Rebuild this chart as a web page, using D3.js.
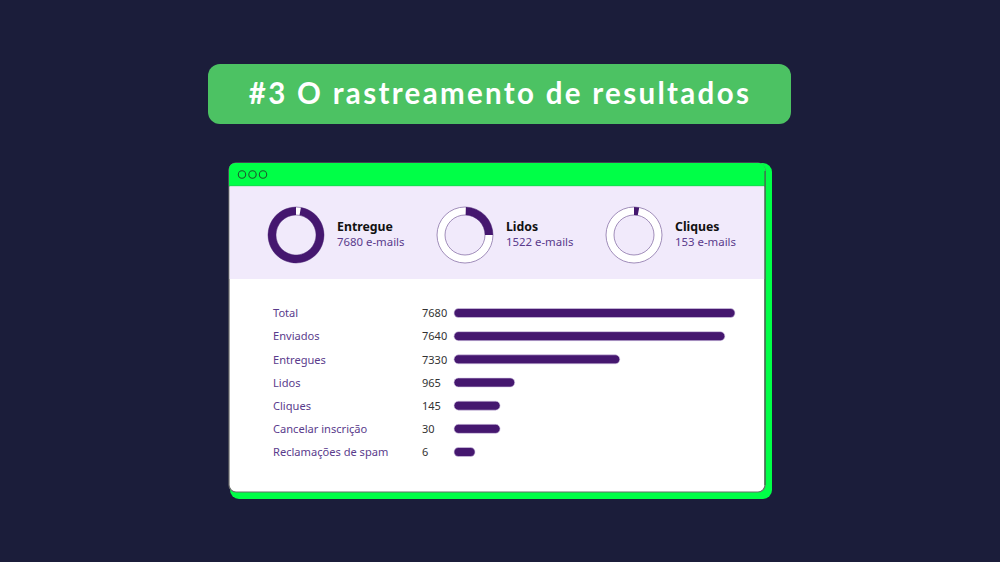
<!DOCTYPE html>
<html><head><meta charset="utf-8">
<script src="https://cdn.jsdelivr.net/npm/d3@7"></script>
<style>
html,body{margin:0;padding:0;background:#1b1d3a;}
svg{display:block;}
</style></head>
<body><svg id="chart" width="1000" height="562"></svg>
<script>
// ---- data ----
const titleText = "#3 O rastreamento de resultados";
const donutNames = ["Entregue", "Lidos", "Cliques"];
const donutCounts = [7680, 1522, 153];
const donutArcStart = [0.028, 0.005, 0.0];   // share of circle where filled arc starts
const donutArcEnd = [1.0, 0.25, 0.03];       // share of circle where filled arc ends
const barCategories = ["Total", "Enviados", "Entregues", "Lidos", "Cliques", "Cancelar inscrição", "Reclamações de spam"];
const barValues = [7680, 7640, 7330, 965, 145, 30, 6];
const barFillPct = [100, 96.4, 59, 21.6, 16.4, 16.4, 7.5]; // drawn bar length, % of longest

const svg = d3.select("#chart");
const C = {
  bg: "#1b1d3a", title: "#4cc263", neon: "#00ff47", lav: "#f1eafb",
  purple: "#45176f", labelPurple: "#5a3b8c", text: "#111", value: "#333"
};

svg.append("rect").attr("width",1000).attr("height",562).attr("fill",C.bg);

// title pill
svg.append("rect").attr("x",208).attr("y",64).attr("width",583).attr("height",60)
  .attr("rx",12).attr("fill",C.title);
const tt = svg.append("text").attr("x",500).attr("y",104).attr("text-anchor","middle")
  .attr("fill","#fff").attr("font-family","Lato, 'Open Sans', sans-serif")
  .attr("font-weight",700).attr("font-size",28).text(titleText);
let tw = tt.node().getComputedTextLength();
let fs = Math.min(29.5, 28*500/tw);
tt.attr("font-size",fs);
tw = tt.node().getComputedTextLength();
if (tw < 496) tt.attr("letter-spacing", ((500-tw)/(titleText.length-1)).toFixed(2));

// window: green offset shadow
svg.append("rect").attr("x",230).attr("y",163).attr("width",542).attr("height",336)
  .attr("rx",9).attr("fill",C.neon);
// panel
const px = 229, py = 163, pw = 536, ph = 329;
svg.append("rect").attr("x",px).attr("y",py).attr("width",pw).attr("height",ph)
  .attr("rx",7).attr("fill","#fff").attr("stroke","#6b6b6b").attr("stroke-width",1.2);
svg.append("path").attr("d",
  `M${px},${py+23} L${px},${py+7} Q${px},${py} ${px+7},${py} L${px+pw-7},${py} Q${px+pw},${py} ${px+pw},${py+7} L${px+pw},${py+23} Z`)
  .attr("fill",C.neon);
svg.append("line").attr("x1",px).attr("x2",px+pw).attr("y1",py+23).attr("y2",py+23)
  .attr("stroke","#2fb35a").attr("stroke-width",0.8);
svg.append("rect").attr("x",px+0.6).attr("y",py+23.5).attr("width",pw-1.2).attr("height",92.5)
  .attr("fill",C.lav);
svg.append("line").attr("x1",px+pw).attr("x2",px+pw).attr("y1",py+8).attr("y2",py+ph-7)
  .attr("stroke","#3c6b48").attr("stroke-width",1.2);
// window dots
[0,1,2].forEach(i => {
  svg.append("circle").attr("cx",242+i*10.5).attr("cy",174.5).attr("r",3.7)
    .attr("fill","none").attr("stroke","#1d5a2e").attr("stroke-width",1.1);
});

// ---- donuts ----
const dx = d3.scalePoint().domain(donutNames).range([296, 634]);
const dy = 235, rO = 28, rI = 20;
const ringArc = d3.arc().innerRadius(rI).outerRadius(rO);
const tau = 2*Math.PI;
const dg = svg.append("g").selectAll("g").data(donutNames).join("g")
  .attr("transform", d => `translate(${dx(d)},${dy})`);
dg.append("path").attr("d", ringArc({startAngle:0,endAngle:tau}))
  .attr("fill","#fff").attr("stroke","#8a74a8").attr("stroke-width",0.8);
dg.append("path").attr("d",(d,i) => ringArc({startAngle: donutArcStart[i]*tau, endAngle: donutArcEnd[i]*tau}))
  .attr("fill",C.purple);
dg.append("text").attr("x",41).attr("y",-4).attr("font-family","'Noto Sans', sans-serif")
  .attr("font-weight",700).attr("font-size",12.3).attr("fill",C.text).text(d => d);
dg.append("text").attr("x",41).attr("y",10.5).attr("font-family","'Noto Sans', sans-serif")
  .attr("font-size",11.4).attr("fill",C.labelPurple).text((d,i) => `${donutCounts[i]} e-mails`);

// ---- bars ----
const y = d3.scalePoint().domain(barCategories).range([313, 452]);
const x = d3.scaleLinear().domain([0,100]).range([454, 735]);
const bh = 9;
const rows = svg.append("g").selectAll("g").data(barCategories).join("g");
rows.append("text").attr("x",273).attr("y",d => y(d)+4.2)
  .attr("font-family","'Noto Sans', sans-serif").attr("font-size",11.1)
  .attr("fill",C.labelPurple).text(d => d);
rows.append("text").attr("x",422).attr("y",d => y(d)+4.2)
  .attr("font-family","'Noto Sans', sans-serif").attr("font-size",11)
  .attr("fill",C.value).text((d,i) => barValues[i]);
rows.append("rect").attr("x",x(0)).attr("y",d => y(d)-bh/2)
  .attr("width",(d,i) => x(barFillPct[i]) - x(0)).attr("height",bh)
  .attr("rx",bh/2).attr("fill",C.purple)
  .attr("stroke","#d9cdea").attr("stroke-width",0.6);
</script></body></html>
